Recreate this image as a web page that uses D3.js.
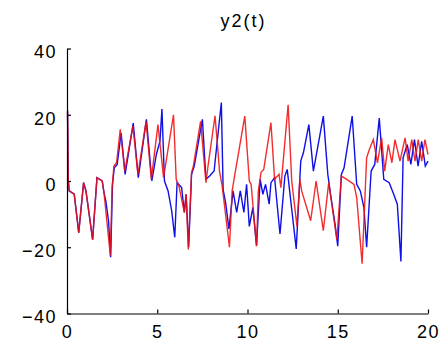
<!DOCTYPE html>
<html>
<head>
<meta charset="utf-8">
<script src="https://cdn.jsdelivr.net/npm/d3@7"></script>
<style>
  html, body { margin: 0; padding: 0; background: #fff; }
  svg { display: block; }
  text { font-family: "Liberation Sans", Arial, sans-serif; fill: #000; }
</style>
</head>
<body>
<svg id="chart" width="448" height="354"></svg>
<script>
// ---- data ----
const title = "y2(t)";
const xTicks = [0, 5, 10, 15, 20];
const yTicks = [-40, -20, 0, 20, 40];

const redT = [0, 0.03, 0.07, 0.12, 0.4, 0.65, 0.92, 1.05, 1.42, 1.66, 1.95, 2.05, 2.4, 2.5, 2.6, 2.75, 2.95, 3.2, 3.65, 3.93, 4.38, 4.67, 5.04, 5.35, 5.9, 6.05, 6.2, 6.5, 6.6, 6.72, 6.9, 7.0, 7.4, 7.7, 7.8, 8.2, 8.35, 8.45, 8.6, 9.0, 9.15, 9.3, 9.85, 10.1, 10.2, 10.5, 10.6, 10.75, 10.9, 11.3, 11.5, 11.75, 11.85, 12.25, 12.45, 12.74, 12.9, 13.0, 13.5, 13.8, 14.2, 14.5, 14.95, 15.2, 15.5, 15.9, 16.05, 16.35, 16.6, 16.75, 16.97, 17.2, 17.43, 17.6, 17.8, 18.0, 18.17, 18.45, 18.73, 18.9, 19.1, 19.28, 19.46, 19.65, 19.83, 20];
const redV = [21, 21, 0.5, -3, -4, -15.6, -0.5, -3, -17.7, 1, 0, -3.5, -22.5, -2, 4.5, 5.6, 15.6, 3, 16.6, 2, 18, 0.5, 17, 1, 20, 0.5, -1.5, -9.5, -4, -20.7, 2.6, 4.5, 18, -0.5, 4, 19.7, 10, 3, -1.6, -20, -3, 2, 19.6, 0, -1, -19.7, -3, 2.6, 3.5, 17.6, 0.5, 2, -2, 23, 0, -13.7, 0.5, -3, -12, 0, -15, -0.5, -17.7, 1.5, 0.5, -1, -5, -25, 7, 9.5, 12.5, 5.5, 13, 3, 11, 5.5, 12.5, 6, 13, 6, 12.5, 6, 12.5, 6, 12.5, 8];

const blueT = [0, 0.03, 0.07, 0.12, 0.4, 0.65, 0.92, 1.05, 1.42, 1.66, 1.95, 2.05, 2.15, 2.3, 2.42, 2.52, 2.62, 2.78, 3.0, 3.22, 3.67, 3.95, 4.4, 4.7, 4.95, 5.15, 5.26, 5.4, 5.6, 5.8, 5.97, 6.1, 6.35, 6.5, 6.6, 6.74, 6.9, 7.05, 7.5, 7.7, 7.9, 8.15, 8.55, 8.65, 8.8, 8.97, 9.2, 9.4, 9.6, 9.8, 9.95, 10.1, 10.3, 10.5, 10.7, 10.85, 11.0, 11.2, 11.3, 11.5, 11.8, 12.07, 12.2, 12.7, 12.95, 13.1, 13.4, 13.65, 14.2, 14.45, 14.6, 14.85, 15.0, 15.2, 15.35, 15.8, 16.05, 16.25, 16.45, 16.6, 16.85, 17.05, 17.3, 17.55, 17.85, 18.1, 18.3, 18.5, 18.62, 18.85, 19.05, 19.25, 19.45, 19.65, 19.85, 20];
const blueV = [21, 21, 0.5, -3, -4, -15.6, -0.5, -3, -17.7, 1, 0, -3.5, -6, -12, -23, -1, 4, 5, 14.5, 2, 17.5, 1, 18.6, 0, 8, 12, 21.7, 0, -3, -9, -17, -0.5, -2, -9.5, -4, -20, 2, 4.5, 18.6, 0.5, 1.5, 3, 23.7, -2.6, -7, -14.5, -3, -9.5, -3, -9.5, -1, -13.7, -8, -19.5, 0.5, -4, -1, -7, -0.5, 1, -16, 1.5, 3.5, -20.5, 6, 8.6, 17, 3, 19.6, 2, -4, -13, -19.7, 2, 4, 19.6, -1, -3, -8, -20, 3, 5, 19, 0.5, -0.5, -4, -7, -24.3, 7, 11, 5, 12.5, 4.5, 12, 4.5, 6];

// ---- layout ----
const svg = d3.select("#chart");
const x = d3.scaleLinear().domain([0, 20]).range([67, 428]);
const y = d3.scaleLinear().domain([-40, 40]).range([313.5, 48.5]);
const font = "18px";

// lines
const line = d3.line().x(d => x(d[0])).y(d => y(d[1]));
const blueData = blueT.map((t, i) => [t, blueV[i]]);
const redData = redT.map((t, i) => [t, redV[i]]);

svg.append("path").datum(blueData)
  .attr("d", line).attr("fill", "none")
  .attr("stroke", "#0f0fe8").attr("stroke-width", 1.4)
  .attr("stroke-linejoin", "miter");
svg.append("path").datum(redData)
  .attr("d", line).attr("fill", "none")
  .attr("stroke", "#f01010").attr("stroke-width", 1.4)
  .attr("stroke-opacity", 0.88)
  .attr("stroke-linejoin", "miter");

// axes
const xAxis = d3.axisBottom(x).tickValues(xTicks).tickSizeInner(-4).tickSizeOuter(0).tickPadding(12);
const yAxis = d3.axisLeft(y).tickValues(yTicks).tickSizeInner(-4).tickSizeOuter(0).tickPadding(10);

const gx = svg.append("g").attr("transform", `translate(0,${y(-40)})`).call(xAxis);
const gy = svg.append("g").attr("transform", `translate(${x(0)},0)`).call(yAxis);

[gx, gy].forEach(g => {
  g.select(".domain").attr("stroke", "#000").attr("stroke-width", 1.2);
  g.selectAll(".tick line").attr("stroke", "#000").attr("stroke-width", 1.2);
  g.selectAll(".tick text")
    .attr("font-family", '"Liberation Sans", Arial, sans-serif')
    .attr("font-size", font).attr("fill", "#000")
    .attr("letter-spacing", "1.5px");
});
gy.selectAll(".tick text").attr("dy", "0.52em");

// title
svg.append("text")
  .attr("x", 243.5).attr("y", 27)
  .attr("text-anchor", "middle")
  .attr("font-size", font)
  .attr("letter-spacing", "2px")
  .text(title);
</script>
</body>
</html>
